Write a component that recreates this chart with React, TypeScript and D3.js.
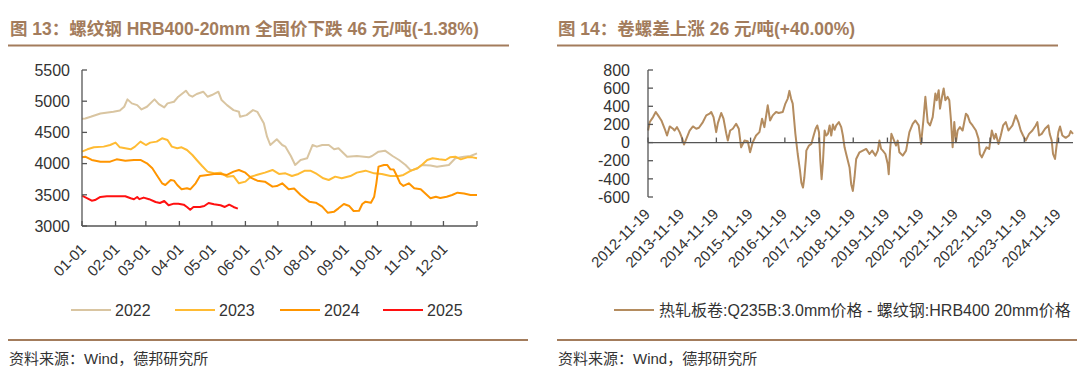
import React from 'react';
import * as d3 from 'd3';

// ---- data ----
const monthLabels = ['01-01', '02-01', '03-01', '04-01', '05-01', '06-01', '07-01', '08-01', '09-01', '10-01', '11-01', '12-01'];
const monthStartDays = [0, 31, 59, 90, 120, 151, 181, 212, 243, 273, 304, 334];
const leftYTicks = [3000, 3500, 4000, 4500, 5000, 5500];
const rightYTicks = [-600, -400, -200, 0, 200, 400, 600, 800];
const yearTickLabels = ['2012-11-19', '2013-11-19', '2014-11-19', '2015-11-19', '2016-11-19', '2017-11-19', '2018-11-19', '2019-11-19', '2020-11-19', '2021-11-19', '2022-11-19', '2023-11-19', '2024-11-19'];

// [day of year, price]
const rebar2022: [number, number][] = [
  [0, 4720], [3, 4724], [8, 4750], [17, 4804], [29, 4830], [35, 4850], [39, 4911], [42, 5029], [46, 4965], [51, 4937],
  [55, 4868], [60, 4911], [67, 5029], [71, 4954], [76, 4900], [79, 4965], [85, 4991], [89, 5072], [96, 5168], [99, 5099],
  [102, 5072], [106, 5115], [112, 5152], [116, 5072], [120, 5099], [126, 5152], [129, 5018], [134, 4937], [140, 4857],
  [145, 4830], [146, 4750], [152, 4777], [158, 4857], [162, 4830], [168, 4646], [171, 4432], [174, 4298], [180, 4390],
  [185, 4298], [188, 4272], [193, 4122], [197, 3978], [202, 4058], [208, 4085], [213, 4298], [217, 4272], [222, 4298],
  [228, 4298], [233, 4229], [237, 4245], [245, 4111], [254, 4122], [265, 4100], [268, 4122], [274, 4191], [280, 4207],
  [287, 4122], [293, 4058], [299, 3978], [304, 3887], [310, 3925], [314, 3978], [322, 3970], [328, 3951], [339, 3978],
  [345, 4085], [353, 4111], [359, 4122], [365, 4165],
];
const rebar2023: [number, number][] = [
  [0, 4191], [5, 4229], [11, 4261], [20, 4272], [26, 4298], [31, 4336], [35, 4261], [40, 4245], [45, 4229], [49, 4272],
  [54, 4352], [59, 4298], [63, 4336], [69, 4352], [74, 4405], [79, 4379], [83, 4272], [88, 4245], [92, 4261], [97, 4218],
  [102, 4138], [106, 4058], [111, 3962], [116, 3871], [122, 3844], [128, 3855], [134, 3791], [140, 3800], [145, 3684],
  [151, 3711], [156, 3791], [162, 3820], [169, 3855], [176, 3898], [182, 3834], [188, 3844], [194, 3801], [200, 3834],
  [206, 3887], [211, 3887], [217, 3834], [223, 3764], [228, 3737], [234, 3791], [240, 3764], [248, 3801], [254, 3855],
  [262, 3887], [270, 3844], [277, 3834], [285, 3801], [293, 3801], [297, 3818], [304, 3887], [310, 3925], [314, 3978],
  [319, 4058], [324, 4085], [330, 4068], [336, 4058], [340, 4100], [345, 4111], [350, 4068], [356, 4100], [361, 4100],
  [365, 4085],
];
const rebar2024: [number, number][] = [
  [0, 4101], [3, 4111], [9, 4058], [17, 4031], [26, 4031], [32, 4068], [40, 4047], [48, 4058], [54, 4058], [60, 4004],
  [65, 3925], [69, 3818], [74, 3684], [77, 3657], [82, 3737], [85, 3727], [88, 3657], [92, 3588], [97, 3604], [100, 3588],
  [105, 3684], [109, 3801], [116, 3818], [122, 3834], [128, 3834], [134, 3818], [140, 3871], [145, 3898], [151, 3855],
  [156, 3775], [162, 3727], [169, 3711], [176, 3631], [180, 3640], [185, 3684], [191, 3588], [196, 3600], [202, 3497],
  [210, 3390], [216, 3374], [222, 3310], [227, 3214], [233, 3230], [237, 3283], [242, 3353], [247, 3320], [251, 3240],
  [256, 3245], [259, 3353], [262, 3390], [267, 3374], [270, 3470], [272, 3684], [274, 3951], [279, 3978], [282, 3978],
  [285, 3909], [288, 3905], [291, 3801], [294, 3684], [297, 3642], [302, 3684], [307, 3604], [313, 3588], [317, 3524],
  [322, 3444], [327, 3470], [331, 3450], [337, 3470], [342, 3497], [347, 3534], [353, 3520], [359, 3497], [365, 3497],
];
const rebar2025: [number, number][] = [
  [0, 3486], [5, 3444], [9, 3406], [12, 3415], [17, 3465], [23, 3476], [29, 3476], [40, 3476], [45, 3444], [48, 3428],
  [51, 3465], [53, 3430], [57, 3455], [62, 3430], [68, 3385], [72, 3369], [76, 3401], [80, 3332], [85, 3358], [89, 3358],
  [94, 3342], [97, 3305], [100, 3262], [103, 3305], [109, 3305], [113, 3320], [117, 3369], [122, 3348], [128, 3332],
  [132, 3305], [136, 3342], [140, 3305], [144, 3278],
];

// [decimal year, hot-rolled coil minus rebar spread]
const spread: [number, number][] = [
  [2012.885, 133], [2012.934, 226], [2013.031, 281], [2013.109, 337], [2013.177, 300], [2013.274, 244], [2013.371, 152],
  [2013.439, 78], [2013.517, 178], [2013.614, 152], [2013.66, 133], [2013.730, 170], [2013.808, 115], [2013.886, 41],
  [2013.935, -22], [2014.003, 41], [2014.100, 133], [2014.197, 178], [2014.294, 152], [2014.372, 163], [2014.488, 226],
  [2014.586, 300], [2014.683, 318], [2014.731, 337], [2014.799, 281], [2014.877, 115], [2014.926, 215], [2015.023, 326],
  [2015.091, 263], [2015.169, 104], [2015.217, 22], [2015.285, 133], [2015.363, 152], [2015.460, 207], [2015.538, 152],
  [2015.606, -52], [2015.703, 22], [2015.800, 15], [2015.868, -107], [2015.946, 4], [2016.043, 78], [2016.141, 115],
  [2016.218, 263], [2016.286, 170], [2016.383, 411], [2016.451, 244], [2016.529, 300], [2016.626, 337], [2016.704, 326],
  [2016.821, 337], [2016.898, 430], [2016.967, 485], [2017.015, 570], [2017.064, 485], [2017.112, 430], [2017.190, 96],
  [2017.258, -126], [2017.326, -311], [2017.365, -441], [2017.413, -496], [2017.452, -385], [2017.501, -163],
  [2017.510, -89], [2017.588, -33], [2017.656, -15], [2017.724, 78], [2017.782, 152], [2017.831, 189], [2017.880, 115],
  [2017.919, -200], [2017.957, -404], [2017.996, -219], [2018.045, 133], [2018.093, 78], [2018.142, 96], [2018.191, 189],
  [2018.239, 78], [2018.288, 200], [2018.336, 141], [2018.385, 189], [2018.463, 226], [2018.531, 170], [2018.579, 78],
  [2018.628, -52], [2018.676, -126], [2018.725, -200], [2018.774, -274], [2018.822, -459], [2018.871, -533],
  [2018.919, -385], [2018.968, -181], [2019.065, -107], [2019.162, -89], [2019.260, -70], [2019.357, -126],
  [2019.435, -89], [2019.532, -144], [2019.600, -89], [2019.648, 22], [2019.697, -70], [2019.746, -89], [2019.823, -126],
  [2019.891, -237], [2019.920, -348], [2019.959, -89], [2019.998, 96], [2020.056, 41], [2020.134, -33], [2020.183, 22],
  [2020.231, -107], [2020.329, -144], [2020.426, -89], [2020.523, 115], [2020.620, 207], [2020.698, 244], [2020.795, 189],
  [2020.863, -15], [2020.931, 244], [2020.989, 504], [2021.057, 226], [2021.125, 189], [2021.203, 281], [2021.281, 541],
  [2021.320, 467], [2021.378, 578], [2021.417, 374], [2021.475, 504], [2021.524, 596], [2021.573, 467], [2021.640, 504],
  [2021.689, 467], [2021.738, 244], [2021.786, -52], [2021.835, 226], [2021.883, 4], [2021.932, 133], [2022.000, 170],
  [2022.078, 133], [2022.175, 318], [2022.224, 300], [2022.292, 226], [2022.369, 189], [2022.467, 133], [2022.544, 41],
  [2022.583, -126], [2022.641, -163], [2022.709, -107], [2022.778, -52], [2022.855, -70], [2022.933, 133], [2023.001, 41],
  [2023.049, 96], [2023.127, -15], [2023.195, 78], [2023.263, 189], [2023.341, 226], [2023.419, 133], [2023.536, 189],
  [2023.633, 300], [2023.710, 226], [2023.778, 133], [2023.846, 78], [2023.924, 22], [2024.021, 96], [2024.119, 133],
  [2024.216, 189], [2024.264, 226], [2024.313, 78], [2024.391, 96], [2024.488, 152], [2024.585, 189], [2024.624, 96],
  [2024.682, 22], [2024.721, -126], [2024.779, -181], [2024.818, -52], [2024.876, 115], [2024.925, 178], [2024.993, 78],
  [2025.090, 52], [2025.188, 78], [2025.236, 126], [2025.304, 96],
];

const yearSeries = [
  { name: '2022', color: '#d9c5a1', data: rebar2022 },
  { name: '2023', color: '#ffbb33', data: rebar2023 },
  { name: '2024', color: '#ff9500', data: rebar2024 },
  { name: '2025', color: '#ff1010', data: rebar2025 },
];

const FONT = '"Liberation Sans", Arial, "Noto Sans CJK SC", sans-serif';
const TITLE_COLOR = '#a37c5c';
const AXIS_COLOR = '#555';
const TEXT_COLOR = '#333';

const fromDecimal = (t: number) => {
  const y = Math.floor(t);
  const a = new Date(y, 0, 1).getTime();
  const b = new Date(y + 1, 0, 1).getTime();
  return new Date(a + (t - y) * (b - a));
};

export default function App() {
  // left chart scales
  const lx = d3.scaleLinear().domain([0, 365]).range([82, 477]);
  const ly = d3.scaleLinear().domain([3000, 5500]).range([226, 70]);
  const lline = d3.line<[number, number]>().x(d => lx(d[0])).y(d => ly(d[1]));

  // right chart scales
  const start = new Date(2012, 10, 19);
  const end = fromDecimal(spread[spread.length - 1][0]);
  const rx = d3.scaleTime().domain([start, end]).range([648, 1073]);
  const ry = d3.scaleLinear().domain([-600, 800]).range([197, 70]);
  const rline = d3.line<[number, number]>().x(d => rx(fromDecimal(d[0]))).y(d => ry(d[1]));
  const yearTicks = yearTickLabels.map((_, i) => new Date(2012 + i, 10, 19));

  const legendLeft = [71, 175, 280, 383];

  return (
    <svg width={1080} height={374} style={{ position: 'fixed', left: 0, top: 0, background: '#fff' }} fontFamily={FONT}>
      <rect width={1080} height={374} fill="#fff" />

      {/* titles */}
      <text x={10} y={35} fontSize={17.5} fontWeight="bold" fill={TITLE_COLOR}>图 13：螺纹钢 HRB400-20mm 全国价下跌 46 元/吨(-1.38%)</text>
      <line x1={8} x2={509} y1={45.5} y2={45.5} stroke={TITLE_COLOR} strokeWidth={2} />
      <text x={558} y={35} fontSize={17.5} fontWeight="bold" fill={TITLE_COLOR}>图 14：卷螺差上涨 26 元/吨(+40.00%)</text>
      <line x1={557} x2={1058} y1={45.5} y2={45.5} stroke={TITLE_COLOR} strokeWidth={2} />

      {/* ---- left chart ---- */}
      <g>
        {yearSeries.map(s => (
          <path key={s.name} d={lline(s.data) || ''} fill="none" stroke={s.color} strokeWidth={2} strokeLinejoin="round" />
        ))}
        <line x1={lx(0)} x2={lx(0)} y1={ly(5500)} y2={ly(3000)} stroke={AXIS_COLOR} strokeWidth={1.3} />
        <line x1={lx(0)} x2={lx(365)} y1={ly(3000)} y2={ly(3000)} stroke={AXIS_COLOR} strokeWidth={1.3} />
        {leftYTicks.map(v => (
          <g key={v}>
            <line x1={lx(0)} x2={lx(0) + 5} y1={ly(v)} y2={ly(v)} stroke={AXIS_COLOR} strokeWidth={1.3} />
            <text x={70} y={ly(v)} dy="0.36em" textAnchor="end" fontSize={16} fill={TEXT_COLOR}>{v}</text>
          </g>
        ))}
        {[...monthStartDays, 365].map(d => (
          <line key={d} x1={lx(d)} x2={lx(d)} y1={ly(3000)} y2={ly(3000) - 5} stroke={AXIS_COLOR} strokeWidth={1.3} />
        ))}
        {monthLabels.map((m, i) => {
          const x = lx(monthStartDays[i]) + 5;
          const y = ly(3000) + 24;
          return (
            <text key={m} x={x} y={y} transform={`rotate(-45 ${x} ${y})`} textAnchor="end" fontSize={15} fill={TEXT_COLOR}>{m}</text>
          );
        })}
        {yearSeries.map((s, i) => (
          <g key={s.name}>
            <line x1={legendLeft[i]} x2={legendLeft[i] + 40} y1={310} y2={310} stroke={s.color} strokeWidth={2} />
            <text x={legendLeft[i] + 44} y={316} fontSize={16} fill={TEXT_COLOR}>{s.name}</text>
          </g>
        ))}
      </g>

      {/* ---- right chart ---- */}
      <g>
        <path d={rline(spread) || ''} fill="none" stroke="#b48c5f" strokeWidth={2} strokeLinejoin="round" />
        <line x1={648} x2={648} y1={ry(800)} y2={ry(-600)} stroke={AXIS_COLOR} strokeWidth={1.3} />
        <line x1={648} x2={rx.range()[1]} y1={ry(0)} y2={ry(0)} stroke={AXIS_COLOR} strokeWidth={1.3} />
        {rightYTicks.map(v => (
          <g key={v}>
            <line x1={648} x2={653} y1={ry(v)} y2={ry(v)} stroke={AXIS_COLOR} strokeWidth={1.3} />
            <text x={630} y={ry(v)} dy="0.36em" textAnchor="end" fontSize={16} fill={TEXT_COLOR}>{v}</text>
          </g>
        ))}
        {yearTicks.map((t, i) => {
          const tx = rx(t);
          const x = tx + 3;
          const y = ry(-600) + 18;
          return (
            <g key={i}>
              <line x1={tx} x2={tx} y1={ry(0)} y2={ry(0) - 5} stroke={AXIS_COLOR} strokeWidth={1.3} />
              <text x={x} y={y} transform={`rotate(-45 ${x} ${y})`} textAnchor="end" fontSize={15} fill={TEXT_COLOR}>{yearTickLabels[i]}</text>
            </g>
          );
        })}
        <line x1={614} x2={654} y1={310} y2={310} stroke="#b48c5f" strokeWidth={2} />
        <text x={659} y={316} fontSize={16} fill={TEXT_COLOR}>热轧板卷:Q235B:3.0mm价格 - 螺纹钢:HRB400 20mm价格</text>
      </g>

      {/* footers */}
      <line x1={8} x2={528} y1={340} y2={340} stroke={TITLE_COLOR} strokeWidth={2} />
      <line x1={557} x2={1077} y1={340} y2={340} stroke={TITLE_COLOR} strokeWidth={2} />
      <text x={9} y={364} fontSize={15} fill={TEXT_COLOR}>资料来源：Wind，德邦研究所</text>
      <text x={558} y={364} fontSize={15} fill={TEXT_COLOR}>资料来源：Wind，德邦研究所</text>
    </svg>
  );
}
